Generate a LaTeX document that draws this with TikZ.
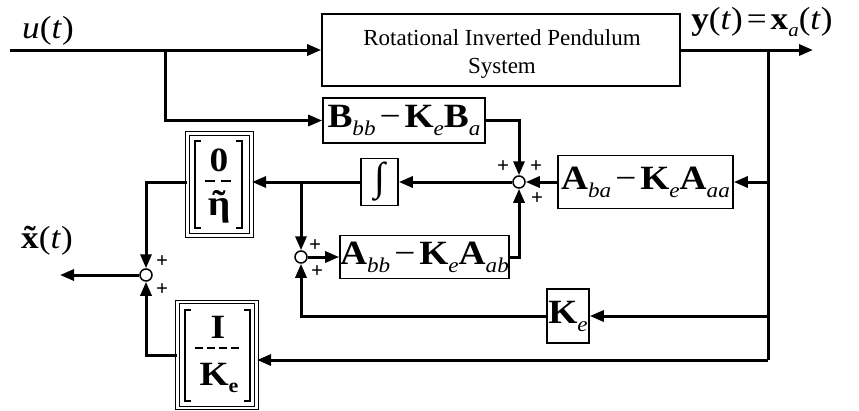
\documentclass[tikz,border=0pt]{standalone}
\usepackage{fontspec}
\setmainfont{Liberation Serif}
\newfontfamily\widefam[FakeStretch=1.1]{Liberation Serif}
\usetikzlibrary{arrows.meta}
\newcommand{\ssub}[1]{\raisebox{-8pt}{\fontsize{21}{21}\selectfont\mdseries\itshape #1}}
\newcommand{\bigmath}{\fontsize{34}{34}\widefam\bfseries}
\newcommand{\mminus}{\kern4pt{\mdseries −}\kern4pt}
\newcommand{\tildeover}[1]{\ooalign{#1\cr\hidewidth ˜\hidewidth\cr}}
\tikzset{
  blk/.style={draw, line width=1.6pt, inner sep=0pt, align=center},
  dblk/.style={draw, double, double distance=2.2pt, line width=1.1pt, inner sep=0pt},
  sumj/.style={draw, circle, fill=white, line width=1.5pt, minimum size=12pt, inner sep=0pt},
  conn/.style={line width=3pt},
  arr/.style={conn, -{Triangle[length=14pt,width=11pt]}},
  plus/.style={font=\fontsize{21}{21}\selectfont\bfseries, inner sep=0pt},
  lbl/.style={inner sep=0pt},
  brk/.style={line width=1.8pt},
}
\begin{document}
\begin{tikzpicture}[x=1pt,y=-1pt]
\useasboundingbox (0,0) rectangle (859,410);
% blocks
\node[blk, minimum width=358pt, minimum height=72pt] (sys) at (501,50) {};
\node[lbl, font=\fontsize{23}{23}\selectfont] (sys1) at (502,38) {Rotational Inverted Pendulum};
\node[lbl, font=\fontsize{23}{23}\selectfont] (sys2) at (502,68) {System};
\node[blk, minimum width=162pt, minimum height=45pt] (B) at (404,120.5) {\bigmath B\ssub{bb}\mminus K\ssub{e}B\ssub{a}};
\node[blk, minimum width=37pt, minimum height=47pt] (int) at (379.5,182) {\fontsize{40}{40}\selectfont\bfseries ∫};
\node[blk, minimum width=175pt, minimum height=53pt] (Aba) at (645.5,182) {\bigmath A\ssub{ba}\mminus K\ssub{e}A\ssub{aa}};
\node[blk, minimum width=169pt, minimum height=43pt] (Abb) at (424.5,257) {\bigmath A\ssub{bb}\mminus K\ssub{e}A\ssub{ab}};
\node[blk, minimum width=42pt, minimum height=54pt] (Ke) at (568,316) {\bigmath K\ssub{e}};
\node[dblk, minimum width=64pt, minimum height=102pt] (eta) at (219.5,184.5) {};
\node[dblk, minimum width=79pt, minimum height=106pt] (IK) at (217,355) {};
% eta block contents
\draw[brk] (201,141) -- (195,141) -- (195,228) -- (201,228);
\draw[brk] (236,141) -- (242,141) -- (242,228) -- (236,228);
\node[lbl, font=\fontsize{34}{34}\widefam\bfseries] (zero) at (219,160) {0};
\draw[line width=2.4pt, dash pattern=on 10pt off 6pt] (205,181) -- (236,181);
\node[lbl, font=\fontsize{36}{36}\widefam\bfseries] (etat) at (219,207) {\tildeover{η}};
% I/Ke block contents
\draw[brk] (191,310) -- (185,310) -- (185,401) -- (191,401);
\draw[brk] (244,310) -- (250,310) -- (250,401) -- (244,401);
\node[lbl, font=\fontsize{34}{34}\widefam\bfseries] (eye) at (218,327) {I};
\draw[line width=2.6pt, dash pattern=on 8pt off 4pt] (195,348) -- (242,348);
\node[lbl, font=\fontsize{34}{34}\widefam\bfseries] (ke2) at (219,378) {K\raisebox{-7pt}{\fontsize{20}{20}\selectfont e}};
% summing junctions
\node[sumj] (s1) at (519,182) {};
\node[sumj] (s2) at (301,257) {};
\node[sumj] (s3) at (146,275) {};
% coordinates
\coordinate (uin) at (10,50);
\coordinate (ub) at (165,50);
\coordinate (yout) at (813,50);
\coordinate (tp) at (768,50);
\coordinate (tA) at (768,182);
\coordinate (tK) at (768,316);
\coordinate (tB) at (768,360);
\coordinate (br) at (301,182);
\coordinate (xout) at (60,275);
% connectors
\draw[arr] (uin) -- (sys.west);
\draw[arr] (ub) |- (B.west);
\draw[arr] (sys.east) -- (yout);
\draw[conn] (tp) -- (tB);
\draw[arr] (tA) -- (Aba.east);
\draw[arr] (Aba.west) -- (s1.east);
\draw[arr] (B.east) -| (s1.north);
\draw[arr] (Abb.east) -| (s1.south);
\draw[arr] (s1.west) -- (int.east);
\draw[arr] (int.west) -- (int.west -| eta.east);
\draw[arr] (br) -- (s2.north);
\draw[arr] (s2.east) -- (Abb.west);
\draw[arr] (tK) -- (Ke.east);
\draw[arr] (Ke.west) -| (s2.south);
\draw[arr] (tB) -- (tB -| IK.east);
\draw[arr] (IK.west) -| (s3.south);
\draw[arr] (int.west -| eta.west) -| (s3.north);
\draw[arr] (s3.west) -- (xout);
% signs
\node[plus] (p1) at (503,167) {+};
\node[plus] (p2) at (536,167) {+};
\node[plus] (p3) at (537,199) {+};
\node[plus] (p4) at (315,246) {+};
\node[plus] (p5) at (317,272) {+};
\node[plus] (p6) at (162,262) {+};
\node[plus] (p7) at (162,290) {+};
% labels
\node[lbl, font=\fontsize{32}{32}\widefam] (ulbl) at (48,31) {\textit{u}(\textit{t})};
\node[lbl, font=\fontsize{32}{32}\widefam] (ylbl) at (762,22) {\textbf{y}(\textit{t})\kern4pt=\kern4pt\textbf{x}\raisebox{-7pt}{\fontsize{19}{19}\selectfont\itshape a}(\textit{t})};
\node[lbl, font=\fontsize{32}{32}\widefam] (xlbl) at (47,241) {\textbf{\tildeover{x}}(\textit{t})};
\end{tikzpicture}
\end{document}
